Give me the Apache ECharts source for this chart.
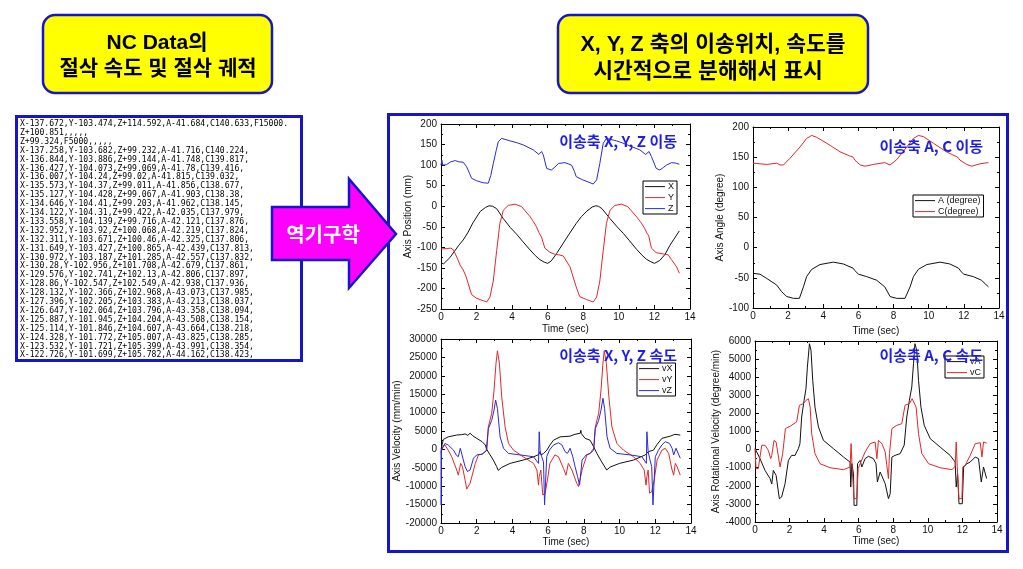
<!DOCTYPE html>
<html><head><meta charset="utf-8">
<script src="https://cdn.jsdelivr.net/npm/echarts@6/dist/echarts.min.js"></script>
<style>html,body{margin:0;padding:0;background:#fff}#c{width:1023px;height:569px}</style>
</head><body><div id="c"></div>
<script>
// ---- data ----
var posX = [[0,-138],[0.15,-140],[0.5,-125],[1.0,-95],[1.25,-82],[1.5,-65],[1.8,-40],[2.2,-13],[2.5,-3],[2.7,1],[2.9,0],[3.13,-6],[3.5,-30],[3.9,-52],[4.25,-68],[4.6,-86],[5.0,-106],[5.3,-120],[5.56,-130],[5.8,-136],[6.0,-139],[6.2,-133],[6.5,-115],[6.87,-90],[7.2,-68],[7.6,-42],[7.9,-25],[8.2,-12],[8.5,-2],[8.7,1],[8.85,0],[9.05,-6],[9.5,-30],[9.9,-50],[10.25,-66],[10.6,-84],[11.0,-105],[11.3,-119],[11.55,-129],[11.8,-135],[12.0,-139],[12.3,-132],[12.6,-117],[12.87,-95],[13.1,-80],[13.4,-60]];
var posY = [[0,-104],[0.3,-103],[0.55,-102],[0.7,-106],[0.9,-125],[1.07,-143],[1.25,-155],[1.4,-170],[1.53,-188],[1.72,-215],[2.0,-224],[2.38,-230],[2.57,-233],[2.75,-221],[2.94,-182],[3.13,-108],[3.31,-42],[3.5,-10],[3.78,2],[4.16,5],[4.53,-1],[5.0,-25],[5.2,-38],[5.37,-50],[5.5,-64],[5.56,-67],[5.65,-75],[5.84,-102],[6.12,-112],[6.4,-117],[6.6,-118],[6.87,-121],[7.25,-147],[7.6,-196],[7.8,-220],[8.18,-227],[8.56,-233],[8.75,-221],[8.93,-182],[9.12,-108],[9.3,-42],[9.5,-10],[9.78,2],[10.15,5],[10.5,-1],[11.0,-26],[11.25,-40],[11.45,-54],[11.6,-67],[11.68,-72],[11.83,-102],[12.1,-113],[12.5,-116],[12.77,-118],[12.96,-130],[13.24,-147],[13.4,-163]];
var posZ = [[0,100],[0.05,112],[0.1,100],[0.3,101],[0.55,108],[0.8,111],[1.0,108],[1.25,107],[1.44,96],[1.6,80],[1.72,68],[2.0,62],[2.38,57],[2.66,56],[2.8,75],[2.94,104],[3.1,135],[3.22,157],[3.41,165],[3.88,159],[4.3,154],[4.63,149],[5.19,137],[5.5,126],[5.56,124],[5.65,133],[5.75,125],[5.94,92],[6.2,88],[6.4,95],[6.6,104],[6.97,106],[7.34,100],[7.5,85],[7.6,72],[7.97,64],[8.28,59],[8.56,54],[8.75,64],[8.93,104],[9.12,153],[9.3,165],[9.87,159],[10.2,154],[10.6,147],[11.18,137],[11.5,126],[11.55,124],[11.7,133],[11.83,121],[12.1,92],[12.3,88],[12.5,94],[12.68,100],[12.96,106],[13.2,105],[13.4,102]];
var angA = [[0,-42.5],[0.4,-44],[0.78,-51],[1.35,-62],[1.63,-73],[1.92,-81],[2.3,-84],[2.64,-84],[2.87,-65],[3.05,-48],[3.34,-36],[3.81,-28],[4.57,-24],[5.14,-27],[5.7,-34],[5.8,-38],[6.0,-44],[6.47,-48],[7.04,-54],[7.5,-65],[7.8,-81],[8.18,-84],[8.65,-84],[8.94,-65],[9.13,-48],[9.41,-36],[9.89,-28],[10.65,-24],[11.2,-27],[11.7,-34],[11.85,-40],[12.0,-44],[12.54,-48],[13.0,-54],[13.4,-65]];
var angC = [[0,140],[0.1,137],[0.78,138],[1.35,140],[1.54,137],[1.73,137],[2.1,148],[2.68,167],[3.05,181],[3.34,186],[3.62,183],[4.2,173],[4.95,159],[5.5,152],[5.7,150],[5.8,145],[6.1,137],[6.38,135],[6.85,138],[7.5,141],[7.8,137],[8.18,146],[8.75,167],[9.13,181],[9.41,186],[9.7,184],[10.27,173],[11.0,159],[11.5,152],[11.65,150],[11.78,145],[12.16,138],[12.45,135],[12.92,139],[13.4,141]];
var velX = [[0,0],[0.05,-500],[0.13,2700],[0.4,3400],[0.88,3900],[1.15,4000],[1.35,4200],[1.5,3800],[1.63,4400],[1.78,3700],[2.0,3000],[2.3,2100],[2.48,1200],[2.56,0],[2.75,-1500],[2.93,-2900],[3.12,-4700],[3.2,-5700],[3.4,-4900],[3.87,-3800],[4.6,-2900],[5.2,-2000],[5.47,-1400],[5.55,-600],[5.6,-1500],[5.74,-1100],[5.93,-200],[6.1,1200],[6.3,2500],[6.67,3400],[7.23,3600],[7.5,4100],[7.8,4400],[7.83,5200],[7.86,4300],[8.07,3000],[8.35,2500],[8.55,700],[8.73,-1100],[9.0,-3400],[9.28,-5600],[9.47,-4800],[10.0,-3800],[10.78,-2900],[11.44,-1500],[11.62,-600],[11.9,-200],[12.08,1200],[12.37,3000],[12.84,3600],[13.1,4100],[13.4,3900]];
var velY = [[0,-1000],[0.1,800],[0.22,1200],[0.4,-200],[0.6,-2000],[0.88,-5600],[0.97,-7000],[1.1,-3800],[1.2,-4700],[1.35,-8300],[1.44,-10800],[1.63,-9200],[1.92,-3800],[2.1,-1500],[2.3,-1300],[2.57,-200],[2.65,6100],[2.84,9800],[2.97,16100],[3.08,23400],[3.16,26800],[3.27,23400],[3.4,14300],[3.59,6100],[3.78,1600],[4.06,-200],[4.6,-2000],[5.18,-3800],[5.37,-5600],[5.46,-9700],[5.5,-7400],[5.59,-5600],[5.7,-12400],[5.83,-11900],[5.96,-8300],[6.1,-3800],[6.38,-1500],[6.58,-2000],[6.86,-5200],[7.0,-7000],[7.13,-3800],[7.33,-5600],[7.6,-9200],[7.7,-10100],[7.9,-5600],[8.17,-1500],[8.35,-1100],[8.55,300],[8.64,6100],[8.83,9800],[8.96,16100],[9.07,23400],[9.14,26800],[9.26,23400],[9.4,14300],[9.57,6100],[9.85,1600],[10.22,-200],[10.78,-2000],[11.15,-3800],[11.38,-5600],[11.48,-9700],[11.53,-7400],[11.6,-5600],[11.68,-11900],[11.8,-11500],[11.94,-8300],[12.1,-2900],[12.37,-200],[12.56,300],[12.75,-1100],[12.94,-5600],[13.03,-7000],[13.12,-3800],[13.22,-4700],[13.4,-7000]];
var velZ = [[0,-200],[0.01,-15100],[0.03,-200],[0.22,1600],[0.4,1200],[0.7,-200],[0.85,-1500],[0.97,-2000],[1.08,300],[1.15,-200],[1.35,-4700],[1.48,-6000],[1.63,-5600],[1.82,-2400],[2.0,-1500],[2.3,-1300],[2.53,-400],[2.65,5600],[2.84,7900],[2.97,10700],[3.06,13400],[3.16,11100],[3.31,3400],[3.5,300],[3.78,-1100],[4.43,-1500],[5.18,-2000],[5.46,-3800],[5.5,4800],[5.55,-600],[5.64,-2000],[5.74,-3400],[5.8,-15100],[5.88,-15100],[5.92,-2000],[6.07,-200],[6.3,1200],[6.58,1800],[6.77,1200],[6.95,-600],[7.08,-1100],[7.23,300],[7.38,-2000],[7.51,-4700],[7.65,-7400],[7.76,-9700],[7.9,-2900],[8.13,-1500],[8.35,-1100],[8.55,-200],[8.64,5600],[8.83,7900],[8.96,10700],[9.07,13900],[9.16,11100],[9.3,3400],[9.47,300],[9.85,-1100],[10.6,-1500],[11.25,-2000],[11.5,-3800],[11.53,4800],[11.6,-600],[11.68,-2400],[11.8,-4700],[11.87,-15100],[11.94,-15100],[12.0,-2000],[12.18,-200],[12.37,1200],[12.56,2100],[12.8,1600],[12.94,300],[13.03,-1500],[13.16,300],[13.4,-2400]];
var velA = [[0,50],[0.1,-130],[0.29,-500],[0.58,-1150],[0.87,-1600],[0.97,-1900],[1.06,-1150],[1.22,-1420],[1.41,-2710],[1.54,-2620],[1.74,-1880],[1.93,-600],[2.12,-320],[2.32,-320],[2.41,-130],[2.51,50],[2.6,330],[2.7,1800],[2.84,2720],[2.95,3370],[3.03,4560],[3.15,5850],[3.24,5480],[3.34,3830],[3.47,2350],[3.67,1250],[3.96,510],[4.54,50],[5.12,-410],[5.5,-690],[5.54,-2070],[5.6,-780],[5.7,-1330],[5.73,-3080],[5.89,-3080],[5.93,-780],[6.08,-600],[6.18,-960],[6.37,-500],[6.56,-370],[6.85,-500],[7.0,-780],[7.08,-1790],[7.24,-1240],[7.53,-1880],[7.72,-2710],[7.82,-2440],[7.92,-410],[8.1,-320],[8.4,-220],[8.63,240],[8.78,1800],[8.93,2720],[9.07,3460],[9.17,4750],[9.25,5850],[9.36,5480],[9.46,3830],[9.6,2350],[9.79,1340],[10.14,600],[10.71,140],[11.29,-320],[11.58,-690],[11.64,-2070],[11.72,-1330],[11.8,-2990],[11.99,-2990],[12.07,-960],[12.26,-780],[12.45,-690],[12.74,-410],[12.93,-500],[13.09,-1790],[13.22,-960],[13.4,-1600]];
var velC = [[0,50],[0.06,-1050],[0.19,-1050],[0.39,240],[0.58,240],[0.77,-40],[0.91,-500],[0.97,-320],[1.1,510],[1.22,420],[1.45,-960],[1.6,-220],[1.76,1160],[2.03,1290],[2.41,1530],[2.57,2450],[2.8,2540],[2.95,2720],[3.09,2810],[3.19,2350],[3.28,880],[3.47,-220],[3.76,-780],[4.34,-1000],[5.12,-1110],[5.5,-960],[5.56,330],[5.62,-1050],[5.73,-2710],[5.89,-2710],[5.97,-1050],[6.08,-780],[6.37,-130],[6.66,330],[6.95,420],[7.05,-500],[7.14,510],[7.34,330],[7.53,-130],[7.72,-1600],[7.78,-220],[7.92,1160],[8.2,1340],[8.49,1430],[8.68,2450],[8.93,2540],[9.09,2810],[9.2,2810],[9.32,2350],[9.46,880],[9.65,-220],[10.04,-780],[10.71,-1000],[11.39,-1110],[11.58,-930],[11.64,420],[11.7,-960],[11.8,-2710],[11.97,-2710],[12.02,-960],[12.16,-870],[12.45,-320],[12.74,330],[13.03,380],[13.13,-410],[13.22,420],[13.4,360]];

var ncLines = [
"X-137.672,Y-103.474,Z+114.592,A-41.684,C140.633,F15000.",
"Z+100.851,,,,,",
"Z+99.324,F5000,,,,,",
"X-137.258,Y-103.682,Z+99.232,A-41.716,C140.224,",
"X-136.844,Y-103.886,Z+99.144,A-41.748,C139.817,",
"X-136.427,Y-104.073,Z+99.069,A-41.78,C139.416,",
"X-136.007,Y-104.24,Z+99.02,A-41.815,C139.032,",
"X-135.573,Y-104.37,Z+99.011,A-41.856,C138.677,",
"X-135.127,Y-104.428,Z+99.067,A-41.903,C138.38,",
"X-134.646,Y-104.41,Z+99.203,A-41.962,C138.145,",
"X-134.122,Y-104.31,Z+99.422,A-42.035,C137.979,",
"X-133.558,Y-104.139,Z+99.716,A-42.121,C137.876,",
"X-132.952,Y-103.92,Z+100.068,A-42.219,C137.824,",
"X-132.311,Y-103.671,Z+100.46,A-42.325,C137.806,",
"X-131.649,Y-103.427,Z+100.865,A-42.439,C137.813,",
"X-130.972,Y-103.187,Z+101.285,A-42.557,C137.832,",
"X-130.28,Y-102.956,Z+101.708,A-42.679,C137.861,",
"X-129.576,Y-102.741,Z+102.13,A-42.806,C137.897,",
"X-128.86,Y-102.547,Z+102.549,A-42.938,C137.936,",
"X-128.132,Y-102.366,Z+102.968,A-43.073,C137.985,",
"X-127.396,Y-102.205,Z+103.383,A-43.213,C138.037,",
"X-126.647,Y-102.064,Z+103.796,A-43.358,C138.094,",
"X-125.887,Y-101.945,Z+104.204,A-43.508,C138.154,",
"X-125.114,Y-101.846,Z+104.607,A-43.664,C138.218,",
"X-124.328,Y-101.772,Z+105.007,A-43.825,C138.285,",
"X-123.532,Y-101.721,Z+105.399,A-43.991,C138.354,",
"X-122.726,Y-101.699,Z+105.782,A-44.162,C138.423,"
];
var boxTitleL = ["NC Data의", "절삭 속도 및 절삭 궤적"];
var boxTitleR = ["X, Y, Z 축의 이송위치, 속도를", "시간적으로 분해해서 표시"];
var chartTitles = ["이송축 X, Y, Z 이동", "이송축 A, C 이동", "이송축 X, Y, Z 속도", "이송축 A, C 속도"];
var yNames = ["Axis Position (mm)", "Axis Angle (degree)", "Axis Velocity (mm/min)", "Axis Rotational Velocity (degree/min)"];
var xName = "Time (sec)";
var arrowLabel = "역기구학";

// ---- layout ----
var BLACK = '#111', RED = '#e0282a', BLUE = '#2a2ad8', FRAME = '#1616c8';
var grids = [
  {left:441, top:124, width:249, height:185},
  {left:753, top:127, width:246, height:181},
  {left:441, top:339, width:250, height:184},
  {left:755, top:341, width:242, height:181}
];
var yCfg = [
  {min:-250, max:200, interval:50, gap:27},
  {min:-100, max:200, interval:50, gap:23},
  {min:-20000, max:30000, interval:5000, gap:36},
  {min:-4000, max:6000, interval:1000, gap:32}
];
var xGaps = [15, 18, 14, 13];
var font = 'Liberation Sans, Arial, sans-serif';

var xAxes = [], yAxes = [];
grids.forEach(function(g, i){
  var base = {
    gridIndex:i, type:'value', min:0, max:14, interval:2,
    axisLine:{show:true, onZero:false, lineStyle:{color:'#000', width:1}},
    axisTick:{show:true, inside:true, length:4, lineStyle:{color:'#000'}},
    minorTick:{show:true, splitNumber:2, length:2, lineStyle:{color:'#000'}},
    splitLine:{show:false}
  };
  xAxes.push(Object.assign({}, base, {position:'bottom', name:xName, nameLocation:'middle', nameGap:xGaps[i],
    nameTextStyle:{fontFamily:font, fontSize:10, color:'#111'},
    axisLabel:{fontFamily:font, fontSize:10, color:'#111', margin:3}}));
  xAxes.push(Object.assign({}, base, {position:'top', axisLabel:{show:false}}));
  var yc = yCfg[i];
  var ybase = {
    gridIndex:i, type:'value', min:yc.min, max:yc.max, interval:yc.interval,
    axisLine:{show:true, onZero:false, lineStyle:{color:'#000', width:1}},
    axisTick:{show:true, inside:true, length:4, lineStyle:{color:'#000'}},
    minorTick:{show:true, splitNumber:2, length:2, lineStyle:{color:'#000'}},
    splitLine:{show:false}
  };
  yAxes.push(Object.assign({}, ybase, {position:'left', name:yNames[i], nameLocation:'middle', nameGap:yc.gap,
    nameTextStyle:{fontFamily:font, fontSize:10, color:'#111'},
    axisLabel:{fontFamily:font, fontSize:10, color:'#111', margin:4, formatter:function(v){return String(v);}}}));
  yAxes.push(Object.assign({}, ybase, {position:'right', axisLabel:{show:false}}));
});

function line(name, data, color, gi){
  return {type:'line', name:name, data:data, xAxisIndex:gi*2, yAxisIndex:gi*2,
    symbol:'none', showSymbol:false, animation:false,
    lineStyle:{color:color, width:1}, itemStyle:{color:color}};
}
var series = [
  line('X', posX, BLACK, 0), line('Y', posY, RED, 0), line('Z', posZ, BLUE, 0),
  line('A (degree)', angA, BLACK, 1), line('C(degree)', angC, RED, 1),
  line('vX', velX, BLACK, 2), line('vY', velY, RED, 2), line('vZ', velZ, BLUE, 2),
  line('vA', velA, BLACK, 3), line('vC', velC, RED, 3)
];
var legendIcon = 'path://M0,0M0,9M0,4.1L20,4.1L20,5.1L0,5.1Z';
function legend(names, left, top){
  return {data:names, orient:'vertical', left:left, top:top, padding:[1,3,1,2], itemGap:2,
    icon:legendIcon, itemWidth:20, itemHeight:9, borderColor:'#000', borderWidth:1, backgroundColor:'#fff',
    selectedMode:false, textStyle:{fontFamily:font, fontSize:9, color:'#111', padding:[0,0,0,-2]}};
}
var legends = [
  legend(['X','Y','Z'], 643, 181),
  legend(['A (degree)','C(degree)'], 913, 195),
  legend(['vX','vY','vZ'], 637, 363),
  legend(['vA','vC'], 945, 356)
];

var titleFont = 'Liberation Sans, "Noto Sans CJK KR", sans-serif';
var kFont = '"Noto Sans CJK KR", sans-serif';
var gfx = [
  {type:'rect', z:1, shape:{x:43, y:15, width:229, height:78, r:12}, style:{fill:'#ffff00', stroke:FRAME, lineWidth:2.5}},
  {type:'text', z:2, x:157, y:43, style:{text:boxTitleL[0], fontFamily:titleFont, fontWeight:'bold', fontSize:21, fill:'#000', align:'center', verticalAlign:'middle'}},
  {type:'text', z:2, x:158, y:69, style:{text:boxTitleL[1], fontFamily:titleFont, fontWeight:'bold', fontSize:21, fill:'#000', align:'center', verticalAlign:'middle'}},
  {type:'rect', z:1, shape:{x:558, y:15, width:310, height:78, r:12}, style:{fill:'#ffff00', stroke:FRAME, lineWidth:2.5}},
  {type:'text', z:2, x:713, y:45, style:{text:boxTitleR[0], fontFamily:titleFont, fontWeight:'bold', fontSize:21.5, fill:'#000', align:'center', verticalAlign:'middle'}},
  {type:'text', z:2, x:708, y:72, style:{text:boxTitleR[1], fontFamily:titleFont, fontWeight:'bold', fontSize:21.5, fill:'#000', align:'center', verticalAlign:'middle'}},
  {type:'rect', z:1, shape:{x:388.5, y:114.5, width:619, height:437}, style:{fill:'none', stroke:FRAME, lineWidth:3}},
  {type:'rect', z:1, shape:{x:16.5, y:116.5, width:285, height:244}, style:{fill:'#fff', stroke:FRAME, lineWidth:3}},
  {type:'text', z:2, x:20, y:119.5, style:{text:ncLines.join('\n'), fontFamily:'DejaVu Sans Mono, monospace', fontSize:8.1, lineHeight:8.9, fill:'#000', align:'left', verticalAlign:'top'}},
  {type:'polygon', z:50, shape:{points:[[272,207],[349,207],[349,179],[396,234],[349,288],[349,260],[272,260]]}, style:{fill:'#ff00ff', stroke:FRAME, lineWidth:2.5}},
  {type:'text', z:51, x:323, y:234, style:{text:arrowLabel, fontFamily:kFont, fontWeight:'bold', fontSize:20, fill:'#fff', align:'center', verticalAlign:'middle'}}
];
var tPos = [[677,141],[983,146],[677,355],[983,355]];
chartTitles.forEach(function(t, i){
  gfx.push({type:'text', z:100, x:tPos[i][0], y:tPos[i][1], style:{text:t, fontFamily:kFont, fontWeight:'bold', fontSize:15, fill:'#1f1fe0', align:'right', verticalAlign:'middle'}});
});

var chart = echarts.init(document.getElementById('c'), null, {renderer:'canvas'});
chart.setOption({
  backgroundColor:'#fff',
  animation:false,
  grid:grids.map(function(g){return Object.assign({containLabel:false}, g);}),
  xAxis:xAxes, yAxis:yAxes, legend:legends, series:series,
  graphic:{elements:gfx}
});
</script></body></html>
